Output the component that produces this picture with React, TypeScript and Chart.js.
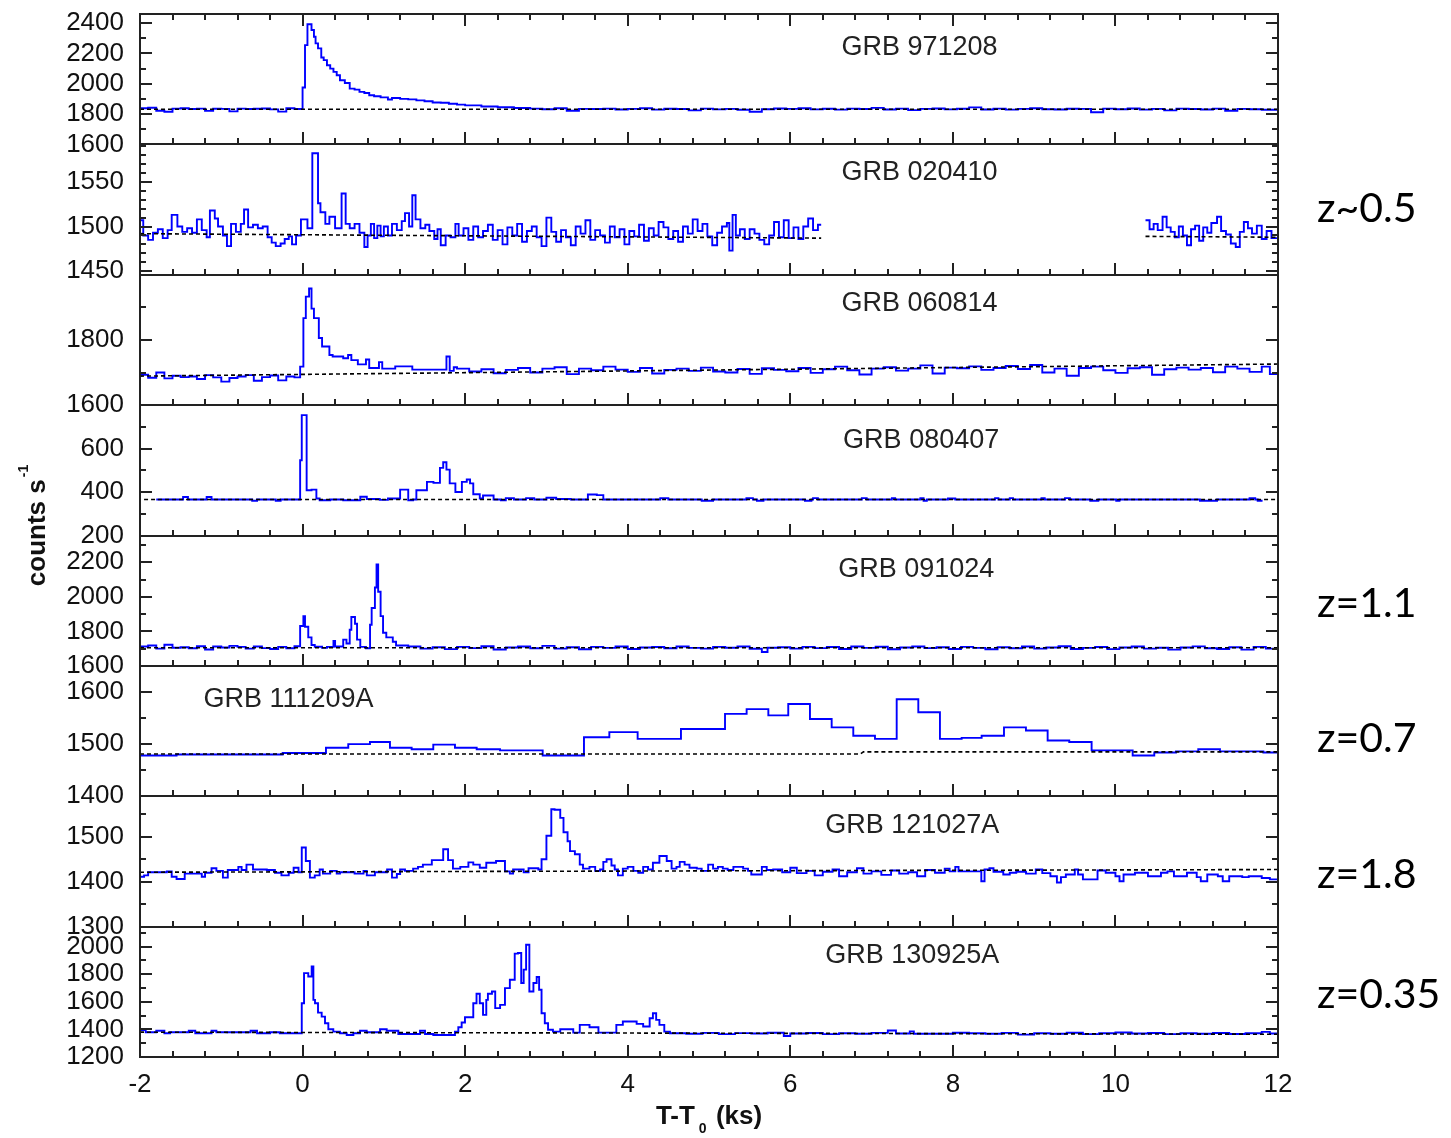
import React, { useEffect, useRef } from 'react';
import { Chart, registerables } from 'chart.js';

Chart.register(...registerables);

const FONT = "'Liberation Sans', Arial, Helvetica, sans-serif";
const Z_FONT = "Lato, 'Noto Sans', 'Open Sans', sans-serif";

// ---------- x axis ----------
const xMin = -2;
const xMax = 12;
const xMajorTicks = [-2, 0, 2, 4, 6, 8, 10, 12];
const xMinorStep = 0.4;

// ---------- panels (top to bottom) ----------
const grbNames = ['GRB 971208', 'GRB 020410', 'GRB 060814', 'GRB 080407', 'GRB 091024', 'GRB 111209A', 'GRB 121027A', 'GRB 130925A'];
const yMins = [1600, 1446, 1600, 200, 1600, 1400, 1300, 1200];
const yMaxs = [2460, 1592, 2000, 800, 2355, 1650, 1590, 2145];
const yMajorSteps = [200, 50, 200, 200, 200, 100, 100, 200];
const yMinorSteps = [100, 10, 100, 100, 100, 50, 50, 100];
// label position: x in data units, y as fraction of panel height from its top (text baseline)
const grbLabelX = [6.63, 6.63, 6.63, 6.65, 6.59, -1.22, 6.43, 6.43];
const grbLabelFrac = [0.315, 0.273, 0.275, 0.331, 0.316, 0.313, 0.284, 0.277];
const redshiftPanels = [1, 4, 5, 6, 7];
const redshiftTexts = ['z~0.5', 'z=1.1', 'z=0.7', 'z=1.8', 'z=0.35'];
const redshiftFrac = [0.595, 0.623, 0.658, 0.703, 0.624];

type Pt = [number, number | null];

// ---------- light curves: [bin start (ks), counts/s]; last pair closes the final bin ----------
const lc971208: Pt[] = [
  [-2, 1838], [-1.9, 1842], [-1.8, 1822], [-1.7, 1815], [-1.6, 1836], [-1.5, 1838], [-1.4, 1833], [-1.3, 1836], [-1.2, 1821], [-1.1, 1835],
  [-1.0, 1834], [-0.9, 1818], [-0.8, 1836], [-0.7, 1833], [-0.6, 1835], [-0.5, 1837], [-0.4, 1831], [-0.3, 1816], [-0.2, 1838], [-0.1, 1833],
  [0, 1975], [0.03, 2255], [0.06, 2392], [0.11, 2354], [0.14, 2310], [0.16, 2266], [0.19, 2233], [0.23, 2173], [0.26, 2156], [0.3, 2122],
  [0.34, 2100], [0.38, 2078], [0.42, 2056], [0.46, 2023], [0.52, 2005], [0.58, 1968], [0.64, 1961], [0.7, 1946], [0.76, 1939], [0.82, 1924],
  [0.88, 1917], [0.96, 1910], [1.05, 1896], [1.1, 1906], [1.2, 1900], [1.3, 1897], [1.4, 1890], [1.5, 1884], [1.6, 1876], [1.7, 1875],
  [1.8, 1868], [1.9, 1862], [2.0, 1857], [2.2, 1850], [2.4, 1845], [2.6, 1840],
  [2.8, 1836], [2.95, 1832], [3.1, 1838], [3.25, 1822], [3.4, 1834], [3.55, 1833], [3.7, 1836], [3.85, 1830], [4.0, 1834], [4.15, 1838],
  [4.3, 1829], [4.45, 1835], [4.6, 1833], [4.75, 1824], [4.9, 1836], [5.05, 1831], [5.2, 1834], [5.35, 1828], [5.5, 1815], [5.65, 1832],
  [5.8, 1837], [5.95, 1834], [6.1, 1838], [6.25, 1831], [6.4, 1835], [6.55, 1829], [6.7, 1836], [6.85, 1833], [7.0, 1841], [7.15, 1830],
  [7.3, 1836], [7.45, 1826], [7.6, 1834], [7.75, 1837], [7.9, 1831], [8.05, 1835], [8.2, 1844], [8.35, 1830], [8.5, 1836], [8.65, 1829],
  [8.8, 1834], [8.95, 1838], [9.1, 1832], [9.25, 1830], [9.4, 1835], [9.55, 1834], [9.7, 1812], [9.85, 1836], [10.0, 1832], [10.15, 1837],
  [10.3, 1829], [10.45, 1834], [10.6, 1824], [10.75, 1836], [10.9, 1833], [11.05, 1830], [11.2, 1836], [11.35, 1822], [11.5, 1834], [11.65, 1832],
  [11.8, 1828], [12, 1828],
];

const lc020410: Pt[] = [
  [-2, 1507], [-1.96, 1490], [-1.9, 1485], [-1.84, 1493], [-1.78, 1497], [-1.72, 1487], [-1.66, 1496], [-1.61, 1513], [-1.54, 1500], [-1.48, 1494],
  [-1.42, 1498], [-1.36, 1493], [-1.3, 1508], [-1.24, 1496], [-1.18, 1488], [-1.14, 1518], [-1.08, 1509], [-1.04, 1500], [-0.98, 1490], [-0.93, 1478],
  [-0.88, 1503], [-0.82, 1494], [-0.76, 1503], [-0.72, 1519], [-0.67, 1499], [-0.61, 1502], [-0.55, 1498], [-0.49, 1500], [-0.43, 1488], [-0.38, 1482],
  [-0.33, 1478], [-0.27, 1481], [-0.22, 1486], [-0.17, 1489], [-0.13, 1480], [-0.08, 1490], [-0.02, 1508], [0.06, 1498], [0.12, 1582], [0.19, 1526],
  [0.22, 1516], [0.28, 1503], [0.33, 1511], [0.4, 1498], [0.48, 1537], [0.53, 1503], [0.58, 1498], [0.64, 1503], [0.7, 1493], [0.76, 1477],
  [0.8, 1490], [0.84, 1503], [0.88, 1487], [0.92, 1501], [0.96, 1489], [1.0, 1500], [1.05, 1490], [1.1, 1503], [1.16, 1496], [1.22, 1506],
  [1.26, 1515], [1.31, 1500], [1.35, 1535], [1.39, 1508], [1.45, 1498], [1.51, 1502], [1.56, 1495], [1.62, 1486], [1.66, 1497], [1.7, 1479],
  [1.76, 1490], [1.82, 1488], [1.88, 1503], [1.92, 1490], [1.98, 1498], [2.04, 1485], [2.1, 1500], [2.16, 1488], [2.22, 1495], [2.28, 1502],
  [2.34, 1485], [2.4, 1496], [2.46, 1480], [2.52, 1499], [2.58, 1490], [2.64, 1503], [2.7, 1483], [2.76, 1495], [2.82, 1500], [2.88, 1488],
  [2.94, 1478], [3.0, 1510], [3.06, 1494], [3.12, 1483], [3.18, 1496], [3.24, 1488], [3.3, 1479], [3.36, 1500], [3.42, 1492], [3.48, 1507],
  [3.54, 1485], [3.6, 1496], [3.66, 1490], [3.72, 1482], [3.78, 1500], [3.84, 1488], [3.9, 1497], [3.96, 1480], [4.02, 1495], [4.08, 1489],
  [4.14, 1502], [4.2, 1484], [4.26, 1498], [4.32, 1490], [4.38, 1505], [4.44, 1499], [4.5, 1486], [4.56, 1495], [4.62, 1483], [4.68, 1500],
  [4.74, 1492], [4.8, 1508], [4.86, 1495], [4.92, 1503], [4.98, 1489], [5.04, 1479], [5.1, 1493], [5.16, 1500], [5.22, 1504], [5.25, 1473],
  [5.29, 1513], [5.33, 1490], [5.38, 1497], [5.44, 1486], [5.5, 1497], [5.56, 1492], [5.62, 1485], [5.68, 1480], [5.74, 1490], [5.8, 1505],
  [5.86, 1488], [5.92, 1507], [5.98, 1487], [6.04, 1499], [6.1, 1486], [6.16, 1500], [6.22, 1509], [6.28, 1496], [6.34, 1502], [6.38, 1502],
  [6.39, null],
  [10.37, 1507], [10.42, 1497], [10.47, 1503], [10.52, 1496], [10.58, 1511], [10.63, 1499], [10.68, 1494], [10.73, 1488], [10.78, 1500], [10.83, 1490],
  [10.88, 1479], [10.93, 1497], [10.98, 1501], [11.03, 1484], [11.08, 1499], [11.13, 1493], [11.18, 1504], [11.25, 1511], [11.3, 1495], [11.36, 1491],
  [11.42, 1481], [11.48, 1477], [11.53, 1494], [11.58, 1505], [11.63, 1498], [11.68, 1492], [11.74, 1501], [11.8, 1486], [11.86, 1495], [11.92, 1487],
  [12, 1487],
];

const lc060814: Pt[] = [
  [-2, 1693], [-1.9, 1684], [-1.8, 1700], [-1.7, 1682], [-1.6, 1690], [-1.5, 1686], [-1.4, 1688], [-1.3, 1680], [-1.2, 1692], [-1.1, 1685],
  [-1.0, 1672], [-0.9, 1683], [-0.8, 1688], [-0.7, 1692], [-0.6, 1675], [-0.5, 1686], [-0.4, 1691], [-0.3, 1676], [-0.2, 1688], [-0.1, 1685],
  [-0.03, 1718], [0.01, 1867], [0.04, 1933], [0.08, 1958], [0.11, 1896], [0.14, 1867], [0.2, 1806], [0.24, 1780], [0.33, 1754], [0.37, 1749],
  [0.5, 1744], [0.56, 1754], [0.6, 1738], [0.68, 1725], [0.78, 1740], [0.82, 1714], [0.94, 1732], [0.98, 1712], [1.14, 1719], [1.35, 1709],
  [1.77, 1749], [1.81, 1705], [1.86, 1716], [1.9, 1712], [2.05, 1703], [2.2, 1710], [2.35, 1698], [2.5, 1708], [2.65, 1714], [2.8, 1700],
  [2.95, 1712], [3.1, 1716], [3.25, 1695], [3.4, 1712], [3.55, 1707], [3.7, 1718], [3.85, 1709], [4.0, 1702], [4.15, 1714], [4.3, 1697],
  [4.45, 1708], [4.6, 1712], [4.75, 1705], [4.9, 1715], [5.05, 1703], [5.2, 1700], [5.35, 1711], [5.5, 1696], [5.65, 1713], [5.8, 1708],
  [5.95, 1704], [6.1, 1714], [6.25, 1699], [6.4, 1710], [6.55, 1718], [6.7, 1707], [6.85, 1694], [7.0, 1712], [7.15, 1716], [7.3, 1706],
  [7.45, 1712], [7.6, 1722], [7.75, 1697], [7.9, 1715], [8.05, 1713], [8.2, 1719], [8.35, 1708], [8.5, 1714], [8.65, 1720], [8.8, 1711],
  [8.95, 1723], [9.1, 1700], [9.25, 1712], [9.4, 1690], [9.55, 1714], [9.7, 1718], [9.85, 1707], [10.0, 1699], [10.15, 1713], [10.3, 1716],
  [10.45, 1693], [10.6, 1710], [10.75, 1715], [10.9, 1709], [11.05, 1714], [11.2, 1701], [11.35, 1718], [11.5, 1712], [11.65, 1702], [11.8, 1718],
  [11.9, 1695], [12, 1695],
];

const lc080407: Pt[] = [
  [-1.8, 366], [-1.47, 377], [-1.41, 366], [-1.18, 377], [-1.12, 366], [-0.62, 360], [-0.56, 366], [-0.33, 360], [-0.27, 366], [-0.03, 546],
  [-0.01, 754], [0.05, 408], [0.11, 411], [0.17, 370], [0.21, 362], [0.34, 366], [0.5, 362], [0.71, 378], [0.79, 368], [0.95, 364],
  [1.05, 370], [1.2, 411], [1.3, 362], [1.36, 366], [1.4, 408], [1.53, 447], [1.61, 442], [1.69, 511], [1.73, 537], [1.77, 503],
  [1.81, 440], [1.88, 400], [1.96, 447], [2.02, 458], [2.06, 440], [2.1, 390], [2.18, 370], [2.22, 384], [2.35, 366], [2.44, 362],
  [2.5, 372], [2.6, 366], [2.75, 372], [2.85, 366], [3.0, 374], [3.12, 368], [3.3, 366], [3.51, 389], [3.62, 386], [3.7, 366],
  [4.4, 372], [4.5, 366], [4.91, 360], [5.05, 366], [5.46, 372], [5.54, 366], [5.59, 360], [5.67, 366], [6.18, 360], [6.26, 366],
  [6.28, 372], [6.34, 366], [6.88, 372], [6.94, 366], [7.25, 372], [7.29, 366], [7.6, 372], [7.64, 360], [7.68, 366], [7.94, 370],
  [8.03, 366], [8.52, 372], [8.56, 366], [8.7, 372], [8.74, 366], [9.09, 372], [9.13, 366], [9.38, 372], [9.44, 366], [9.69, 360],
  [9.79, 366], [10.01, 360], [10.05, 366], [11.04, 360], [11.25, 366], [11.65, 372], [11.72, 366], [11.75, 360], [11.81, 360],
];

const lc091024: Pt[] = [
  [-2, 1712], [-1.9, 1718], [-1.8, 1700], [-1.7, 1722], [-1.6, 1705], [-1.5, 1708], [-1.4, 1702], [-1.3, 1714], [-1.2, 1695], [-1.1, 1712],
  [-1.0, 1706], [-0.9, 1716], [-0.8, 1710], [-0.7, 1700], [-0.6, 1712], [-0.5, 1703], [-0.4, 1698], [-0.3, 1710], [-0.2, 1702], [-0.1, 1714],
  [-0.03, 1831], [0.01, 1888], [0.03, 1827], [0.07, 1765], [0.11, 1721], [0.15, 1711], [0.24, 1704], [0.3, 1710], [0.38, 1744], [0.4, 1712],
  [0.5, 1752], [0.54, 1730], [0.58, 1809], [0.6, 1883], [0.645, 1844], [0.67, 1752], [0.71, 1710], [0.78, 1702], [0.83, 1838], [0.85, 1935],
  [0.89, 2054], [0.91, 2188], [0.93, 2029], [0.96, 1888], [0.99, 1792], [1.03, 1765], [1.11, 1740], [1.15, 1718], [1.3, 1712], [1.45, 1700],
  [1.6, 1708], [1.75, 1697], [1.9, 1710], [2.05, 1703], [2.2, 1714], [2.35, 1695], [2.5, 1706], [2.65, 1712], [2.8, 1702], [2.95, 1716],
  [3.1, 1700], [3.25, 1708], [3.4, 1696], [3.55, 1710], [3.7, 1704], [3.85, 1712], [4.0, 1698], [4.15, 1706], [4.3, 1709], [4.45, 1702],
  [4.6, 1712], [4.75, 1704], [4.9, 1700], [5.05, 1710], [5.2, 1705], [5.35, 1712], [5.5, 1699], [5.65, 1680], [5.72, 1705], [5.85, 1708],
  [6.0, 1700], [6.15, 1710], [6.3, 1703], [6.45, 1709], [6.6, 1698], [6.75, 1712], [6.9, 1704], [7.05, 1711], [7.2, 1696], [7.35, 1706],
  [7.5, 1712], [7.65, 1703], [7.8, 1708], [7.95, 1698], [8.1, 1710], [8.25, 1704], [8.4, 1696], [8.55, 1708], [8.7, 1702], [8.85, 1712],
  [9.0, 1700], [9.15, 1706], [9.3, 1714], [9.45, 1698], [9.6, 1704], [9.75, 1709], [9.9, 1697], [10.05, 1706], [10.2, 1712], [10.35, 1700],
  [10.5, 1705], [10.65, 1694], [10.8, 1706], [10.95, 1713], [11.1, 1702], [11.25, 1698], [11.4, 1708], [11.55, 1694], [11.7, 1710], [11.85, 1700],
  [12, 1700],
];

const lc111209A: Pt[] = [
  [-2, 1478], [-1.55, 1480], [-0.245, 1483], [0.288, 1493], [0.562, 1500], [0.829, 1504], [1.075, 1493], [1.342, 1490], [1.608, 1499], [1.875, 1493],
  [2.142, 1490], [2.429, 1488], [2.954, 1478], [3.462, 1513], [3.774, 1523], [4.122, 1510], [4.655, 1529], [5.197, 1558], [5.463, 1567], [5.73, 1555],
  [5.975, 1577], [6.242, 1548], [6.509, 1532], [6.775, 1516], [7.042, 1510], [7.309, 1586], [7.575, 1561], [7.841, 1510], [8.108, 1512], [8.354, 1516],
  [8.629, 1532], [8.899, 1526], [9.166, 1507], [9.432, 1504], [9.707, 1488], [10.212, 1478], [10.478, 1484], [10.745, 1486], [11.019, 1490], [11.286, 1486],
  [11.82, 1484], [12, 1484],
];

const lc121027A: Pt[] = [
  [-2, 1411], [-1.95, 1414], [-1.9, 1421], [-1.67, 1423], [-1.61, 1411], [-1.55, 1406], [-1.45, 1418], [-1.24, 1411], [-1.2, 1420], [-1.12, 1430],
  [-1.06, 1424], [-0.98, 1409], [-0.92, 1426], [-0.79, 1433], [-0.75, 1426], [-0.69, 1438], [-0.61, 1427], [-0.44, 1426], [-0.34, 1420], [-0.26, 1414],
  [-0.17, 1420], [-0.11, 1431], [-0.05, 1421], [-0.01, 1476], [0.04, 1446], [0.09, 1409], [0.15, 1414], [0.21, 1427], [0.25, 1418], [0.34, 1424],
  [0.42, 1418], [0.46, 1421], [0.64, 1418], [0.75, 1424], [0.79, 1414], [0.89, 1421], [1.04, 1427], [1.1, 1409], [1.16, 1417], [1.2, 1427],
  [1.26, 1424], [1.36, 1429], [1.42, 1433], [1.48, 1438], [1.59, 1448], [1.73, 1472], [1.79, 1448], [1.85, 1429], [1.94, 1433], [2.04, 1443],
  [2.1, 1438], [2.18, 1431], [2.26, 1442], [2.38, 1446], [2.49, 1423], [2.55, 1418], [2.59, 1427], [2.72, 1421], [2.78, 1430], [2.9, 1427],
  [2.94, 1450], [3.0, 1502], [3.06, 1561], [3.1, 1560], [3.17, 1542], [3.21, 1510], [3.26, 1490], [3.29, 1468], [3.35, 1461], [3.41, 1438],
  [3.45, 1429], [3.53, 1433], [3.6, 1424], [3.66, 1427], [3.7, 1444], [3.74, 1450], [3.8, 1436], [3.84, 1427], [3.88, 1414], [3.94, 1429],
  [4.0, 1433], [4.07, 1424], [4.13, 1420], [4.19, 1433], [4.25, 1427], [4.31, 1442], [4.39, 1457], [4.48, 1446], [4.54, 1429], [4.6, 1433],
  [4.64, 1444], [4.7, 1438], [4.76, 1431], [4.85, 1429], [4.91, 1424], [4.99, 1438], [5.05, 1429], [5.11, 1433], [5.17, 1429], [5.23, 1426],
  [5.3, 1433], [5.42, 1429], [5.48, 1424], [5.52, 1416], [5.65, 1433], [5.71, 1426], [5.79, 1427], [5.9, 1421], [6.0, 1431], [6.08, 1419],
  [6.2, 1424], [6.3, 1414], [6.4, 1422], [6.52, 1427], [6.6, 1412], [6.7, 1421], [6.82, 1430], [6.9, 1418], [7.0, 1423], [7.12, 1415],
  [7.24, 1425], [7.34, 1418], [7.45, 1421], [7.56, 1412], [7.66, 1426], [7.78, 1420], [7.9, 1429], [7.96, 1423], [8.03, 1433], [8.07, 1423],
  [8.28, 1423], [8.35, 1401], [8.39, 1427], [8.45, 1430], [8.5, 1422], [8.62, 1416], [8.7, 1420], [8.78, 1422], [8.9, 1418], [9.02, 1427],
  [9.1, 1419], [9.2, 1412], [9.28, 1398], [9.33, 1410], [9.39, 1416], [9.5, 1427], [9.54, 1416], [9.6, 1405], [9.78, 1425], [9.88, 1420],
  [10.0, 1412], [10.05, 1401], [10.1, 1416], [10.24, 1420], [10.4, 1412], [10.56, 1420], [10.64, 1423], [10.72, 1412], [10.88, 1420], [11.0, 1410],
  [11.05, 1401], [11.13, 1416], [11.26, 1412], [11.32, 1401], [11.4, 1412], [11.56, 1410], [11.64, 1412], [11.8, 1408], [11.9, 1405], [12, 1405],
];

const lc130925A: Pt[] = [
  [-2, 1396], [-1.93, 1379], [-1.8, 1390], [-1.7, 1372], [-1.63, 1379], [-1.4, 1390], [-1.32, 1372], [-1.12, 1390], [-1.06, 1379], [-0.92, 1379],
  [-0.72, 1379], [-0.64, 1390], [-0.56, 1372], [-0.4, 1379], [-0.28, 1372], [-0.01, 1590], [0.018, 1808], [0.07, 1784], [0.112, 1857], [0.133, 1614],
  [0.153, 1590], [0.19, 1522], [0.235, 1493], [0.276, 1445], [0.317, 1401], [0.378, 1384], [0.46, 1372], [0.543, 1360], [0.625, 1372], [0.707, 1390],
  [0.789, 1379], [0.953, 1401], [1.035, 1390], [1.178, 1367], [1.445, 1390], [1.506, 1367], [1.608, 1360], [1.875, 1384], [1.916, 1416], [1.957, 1450],
  [1.998, 1488], [2.1, 1590], [2.14, 1658], [2.18, 1590], [2.22, 1505], [2.26, 1614], [2.28, 1658], [2.33, 1675], [2.37, 1554], [2.43, 1578],
  [2.49, 1699], [2.55, 1760], [2.61, 1949], [2.65, 1954], [2.69, 1736], [2.72, 1833], [2.75, 2014], [2.79, 1675], [2.84, 1736], [2.88, 1780],
  [2.91, 1687], [2.94, 1517], [2.98, 1445], [3.02, 1397], [3.08, 1384], [3.17, 1401], [3.33, 1377], [3.41, 1433], [3.53, 1416], [3.64, 1377],
  [3.86, 1433], [3.94, 1457], [4.11, 1440], [4.19, 1421], [4.27, 1481], [4.31, 1517], [4.35, 1469], [4.39, 1433], [4.45, 1384], [4.52, 1372],
  [4.72, 1368], [4.92, 1375], [5.12, 1366], [5.32, 1373], [5.52, 1370], [5.72, 1376], [5.92, 1352], [6.0, 1370], [6.2, 1374], [6.4, 1366],
  [6.6, 1372], [6.8, 1368], [7.0, 1375], [7.2, 1392], [7.3, 1370], [7.47, 1386], [7.52, 1368], [7.8, 1369], [8.0, 1376], [8.2, 1372],
  [8.4, 1368], [8.6, 1375], [8.8, 1362], [9.0, 1372], [9.2, 1368], [9.4, 1376], [9.6, 1366], [9.8, 1372], [10.0, 1378], [10.2, 1370],
  [10.4, 1374], [10.6, 1366], [10.8, 1372], [11.0, 1369], [11.2, 1374], [11.4, 1367], [11.6, 1372], [11.8, 1382], [11.9, 1370], [12, 1370],
];

// ---------- fitted background levels (dashed) ----------
const base971208: Pt[] = [[-2, 1832], [12, 1832]];
const base020410: Pt[] = [[-2, 1492], [6.38, 1487], [6.39, null], [10.37, 1489], [12, 1488]];
const base060814: Pt[] = [[-2, 1689], [12, 1726]];
const base080407: Pt[] = [[-1.95, 366], [12, 366]];
const base091024: Pt[] = [[-2, 1705], [12, 1705]];
const base111209A: Pt[] = [[-2, 1481], [6.86, 1481], [6.9, 1485], [12, 1485]];
const base121027A: Pt[] = [[-2, 1421], [12, 1427]];
const base130925A: Pt[] = [[-2, 1380], [12, 1365]];

const lightCurves = [lc971208, lc020410, lc060814, lc080407, lc091024, lc111209A, lc121027A, lc130925A];
const baselines = [base971208, base020410, base060814, base080407, base091024, base111209A, base121027A, base130925A];

function labelTicks(i: number): number[] {
  const out: number[] = [];
  const step = yMajorSteps[i];
  for (let k = Math.ceil(yMins[i] / step); k * step < yMaxs[i] - 1e-6; k++) out.push(k * step);
  return out;
}

const framePlugin = {
  id: 'originFrames',
  afterDraw(chart: any) {
    const ctx: CanvasRenderingContext2D = chart.ctx;
    const xs = chart.scales.x;
    const left = Math.round(xs.left);
    const right = Math.round(xs.right);
    const MAJ = 12;
    const MIN = 6;
    ctx.save();
    ctx.strokeStyle = '#222';
    ctx.lineWidth = 2;
    ctx.lineCap = 'butt';

    for (let i = 0; i < 8; i++) {
      const ys = chart.scales['y' + i];
      const top = Math.round(ys.top);
      const bottom = Math.round(ys.bottom);
      ctx.strokeRect(left, top, right - left, bottom - top);

      // y ticks (left and right, inward)
      const mn = yMinorSteps[i];
      const mj = yMajorSteps[i];
      ctx.beginPath();
      for (let k = Math.ceil(yMins[i] / mn); k * mn <= yMaxs[i]; k++) {
        const v = k * mn;
        const py = Math.round(ys.getPixelForValue(v));
        if (py <= top + 1 || py >= bottom - 1) continue;
        const len = Math.abs(v / mj - Math.round(v / mj)) < 1e-6 ? MAJ : MIN;
        ctx.moveTo(left, py);
        ctx.lineTo(left + len, py);
        ctx.moveTo(right, py);
        ctx.lineTo(right - len, py);
      }
      // x ticks on the panel bottom (and top for the first panel), inward
      const n0 = Math.round(xMin / xMinorStep);
      const n1 = Math.round(xMax / xMinorStep);
      for (let k = n0; k <= n1; k++) {
        const v = k * xMinorStep;
        const px = Math.round(xs.getPixelForValue(v));
        const isMaj = Math.abs(v / 2 - Math.round(v / 2)) < 1e-6;
        const len = isMaj ? MAJ : MIN;
        if (px <= left + 1 || px >= right - 1) continue;
        ctx.moveTo(px, bottom);
        ctx.lineTo(px, bottom - len);
        if (i === 0) {
          ctx.moveTo(px, top);
          ctx.lineTo(px, top + len);
        }
      }
      ctx.stroke();

      // GRB names
      ctx.fillStyle = '#222';
      ctx.font = `27px ${FONT}`;
      ctx.textBaseline = 'alphabetic';
      ctx.textAlign = 'left';
      ctx.fillText(grbNames[i], xs.getPixelForValue(grbLabelX[i]), top + grbLabelFrac[i] * (bottom - top));
    }

    // redshift notes on the right
    ctx.fillStyle = '#000';
    ctx.font = `41px ${Z_FONT}`;
    ctx.textAlign = 'left';
    ctx.textBaseline = 'alphabetic';
    redshiftPanels.forEach((p, j) => {
      const ys = chart.scales['y' + p];
      ctx.fillText(redshiftTexts[j], right + 39, ys.top + redshiftFrac[j] * (ys.bottom - ys.top));
    });

    // x-axis title: T-T0 (ks) with subscript
    const cx = (left + right) / 2;
    const by = xs.bottom - 14;
    ctx.fillStyle = '#111';
    const big = `bold 26px ${FONT}`;
    const small = `bold 14px ${FONT}`;
    ctx.font = big;
    const w1 = ctx.measureText('T-T').width;
    const w3 = ctx.measureText(' (ks)').width;
    ctx.font = small;
    const w2 = ctx.measureText('0').width;
    const total = w1 + 4 + w2 + 2 + w3;
    const x0 = cx - total / 2;
    ctx.font = big;
    ctx.fillText('T-T', x0, by);
    ctx.font = small;
    ctx.fillText('0', x0 + w1 + 4, by + 9);
    ctx.font = big;
    ctx.fillText(' (ks)', x0 + w1 + 4 + w2 + 2, by);

    // y-axis title: counts s^-1 (rotated)
    const yTop = chart.scales.y0.top;
    const yBot = chart.scales.y7.bottom;
    const cy = (yTop + yBot) / 2 - 10;
    ctx.save();
    ctx.translate(45, cy);
    ctx.rotate(-Math.PI / 2);
    ctx.font = big;
    const t1 = 'counts s';
    const tw = ctx.measureText(t1).width;
    ctx.font = small;
    const sw = ctx.measureText('-1').width;
    const tot = tw + 2 + sw;
    ctx.font = big;
    ctx.fillText(t1, -tot / 2, 0);
    ctx.font = small;
    ctx.fillText('-1', -tot / 2 + tw + 2, -17);
    ctx.restore();

    ctx.restore();
  },
};

export default function App() {
  const canvasRef = useRef<HTMLCanvasElement | null>(null);

  useEffect(() => {
    const canvas = canvasRef.current;
    if (!canvas) return;

    const datasets: any[] = [];
    for (let i = 0; i < 8; i++) {
      datasets.push({
        label: grbNames[i] + ' background',
        data: baselines[i].map(([x, y]) => ({ x, y })),
        yAxisID: 'y' + i,
        borderColor: '#000',
        borderWidth: 1.6,
        borderDash: [4, 3],
        pointRadius: 0,
        fill: false,
        spanGaps: false,
        order: 0,
      });
      datasets.push({
        label: grbNames[i],
        data: lightCurves[i].map(([x, y]) => ({ x, y })),
        yAxisID: 'y' + i,
        borderColor: '#0000ff',
        borderWidth: 1.9,
        // horizontal at the bin value from this bin start to the next, then vertical
        stepped: 'before',
        pointRadius: 0,
        fill: false,
        spanGaps: false,
        order: 1,
      });
    }

    const scales: any = {
      x: {
        type: 'linear',
        position: 'bottom',
        min: xMin,
        max: xMax,
        grid: { display: false, drawTicks: false },
        border: { display: false },
        ticks: {
          font: { family: FONT, size: 26 },
          color: '#111',
          padding: 12,
          autoSkip: false,
          maxRotation: 0,
          callback: (v: any) => String(v),
        },
        afterBuildTicks: (s: any) => {
          s.ticks = xMajorTicks.map((v) => ({ value: v }));
        },
        afterFit: (s: any) => {
          s.height = 81;
          s.paddingLeft = 0;
          s.paddingRight = 0;
        },
      },
    };
    for (let i = 0; i < 8; i++) {
      scales['y' + i] = {
        type: 'linear',
        position: 'left',
        stack: 'panels',
        stackWeight: 1,
        weight: 8 - i,
        min: yMins[i],
        max: yMaxs[i],
        grid: { display: false, drawTicks: false },
        border: { display: false },
        ticks: {
          font: { family: FONT, size: 26 },
          color: '#111',
          padding: 16,
          autoSkip: false,
          callback: (v: any) => String(v),
        },
        afterBuildTicks: (s: any) => {
          s.ticks = labelTicks(i).map((v) => ({ value: v }));
        },
        afterFit: (s: any) => {
          s.width = 140;
          s.paddingTop = 0;
          s.paddingBottom = 0;
        },
      };
    }

    const chart = new Chart(canvas, {
      type: 'line',
      data: { datasets },
      options: {
        responsive: false,
        animation: false,
        devicePixelRatio: 1,
        layout: { padding: { left: 0, right: 173, top: 14, bottom: 0 } },
        plugins: { legend: { display: false }, tooltip: { enabled: false } },
        events: [],
        scales,
      } as any,
      plugins: [framePlugin],
    });

    return () => chart.destroy();
  }, []);

  return (
    <div style={{ position: 'absolute', left: 0, top: 0, width: 1451, height: 1138, background: '#fff' }}>
      <canvas ref={canvasRef} width={1451} height={1138} style={{ display: 'block', width: 1451, height: 1138 }} />
    </div>
  );
}
